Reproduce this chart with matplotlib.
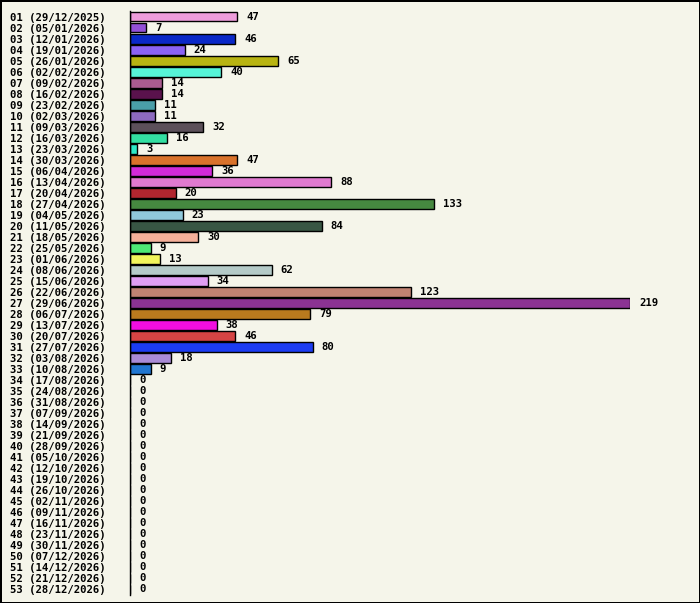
import matplotlib
matplotlib.use('Agg')
import matplotlib.pyplot as plt

# weekly counts, week number + week start date
weeks = ['%02d' % i for i in range(1, 54)]
dates = ['29/12/2025', '05/01/2026', '12/01/2026', '19/01/2026', '26/01/2026',
         '02/02/2026', '09/02/2026', '16/02/2026', '23/02/2026', '02/03/2026',
         '09/03/2026', '16/03/2026', '23/03/2026', '30/03/2026', '06/04/2026',
         '13/04/2026', '20/04/2026', '27/04/2026', '04/05/2026', '11/05/2026',
         '18/05/2026', '25/05/2026', '01/06/2026', '08/06/2026', '15/06/2026',
         '22/06/2026', '29/06/2026', '06/07/2026', '13/07/2026', '20/07/2026',
         '27/07/2026', '03/08/2026', '10/08/2026', '17/08/2026', '24/08/2026',
         '31/08/2026', '07/09/2026', '14/09/2026', '21/09/2026', '28/09/2026',
         '05/10/2026', '12/10/2026', '19/10/2026', '26/10/2026', '02/11/2026',
         '09/11/2026', '16/11/2026', '23/11/2026', '30/11/2026', '07/12/2026',
         '14/12/2026', '21/12/2026', '28/12/2026']
values = [47, 7, 46, 24, 65, 40, 14, 14, 11, 11, 32, 16, 3, 47, 36, 88, 20,
          133, 23, 84, 30, 9, 13, 62, 34, 123, 219, 79, 38, 46, 80, 18, 9] + [0] * 20
colors = ['#ee9ddb', '#9350d8', '#0a28c8', '#8b62f5', '#b8b412', '#56f4d8',
          '#aa5c90', '#5a124c', '#4a9ea8', '#8d6abf', '#5c505a', '#33dfa2',
          '#2ee8c7', '#d9722b', '#d12ad8', '#e07ad0', '#b2262f', '#468840',
          '#90c8db', '#385644', '#f5b09a', '#4ee875', '#f2f55b', '#b4cac8',
          '#e09ef3', '#c08272', '#8b3393', '#b97a1e', '#f20ee0', '#d54444',
          '#1c3cf2', '#a98bd7', '#2176d1'] + ['#888888'] * 20

labels = ['%s (%s)' % (w, d) for w, d in zip(weeks, dates)]
bg = '#f5f5ea'
font = dict(family='DejaVu Sans Mono', weight='bold', size=7.7)

fig = plt.figure(figsize=(7, 6.03), dpi=100)
fig.patch.set_facecolor(bg)
fig.patch.set_edgecolor('black')
fig.patch.set_linewidth(2)
ax = fig.add_axes([130 / 700, 8 / 603, 500 / 700, 584 / 603])
ax.set_facecolor(bg)

pos = list(range(len(values)))
ax.barh(pos, values, height=0.9, color=colors, edgecolor='black', linewidth=1)

for y, v in zip(pos, values):
    ax.annotate(str(v), (v, y), xytext=(6.5, 0), textcoords='offset points',
                va='center', ha='left', **font)

ax.set_xlim(0, 219)
ax.set_ylim(len(values) - 0.5, -0.5)
ax.set_xticks([])
ax.set_yticks(pos, labels)
ax.tick_params(axis='y', length=0, pad=86.4)
for t in ax.get_yticklabels():
    t.set_ha('left')
    t.set_fontfamily(font['family'])
    t.set_fontweight('bold')
    t.set_fontsize(font['size'])
for s in ['top', 'right', 'bottom']:
    ax.spines[s].set_visible(False)
ax.spines['left'].set_linewidth(1)

fig.savefig('out.png', dpi=100, facecolor=bg, edgecolor='black')
